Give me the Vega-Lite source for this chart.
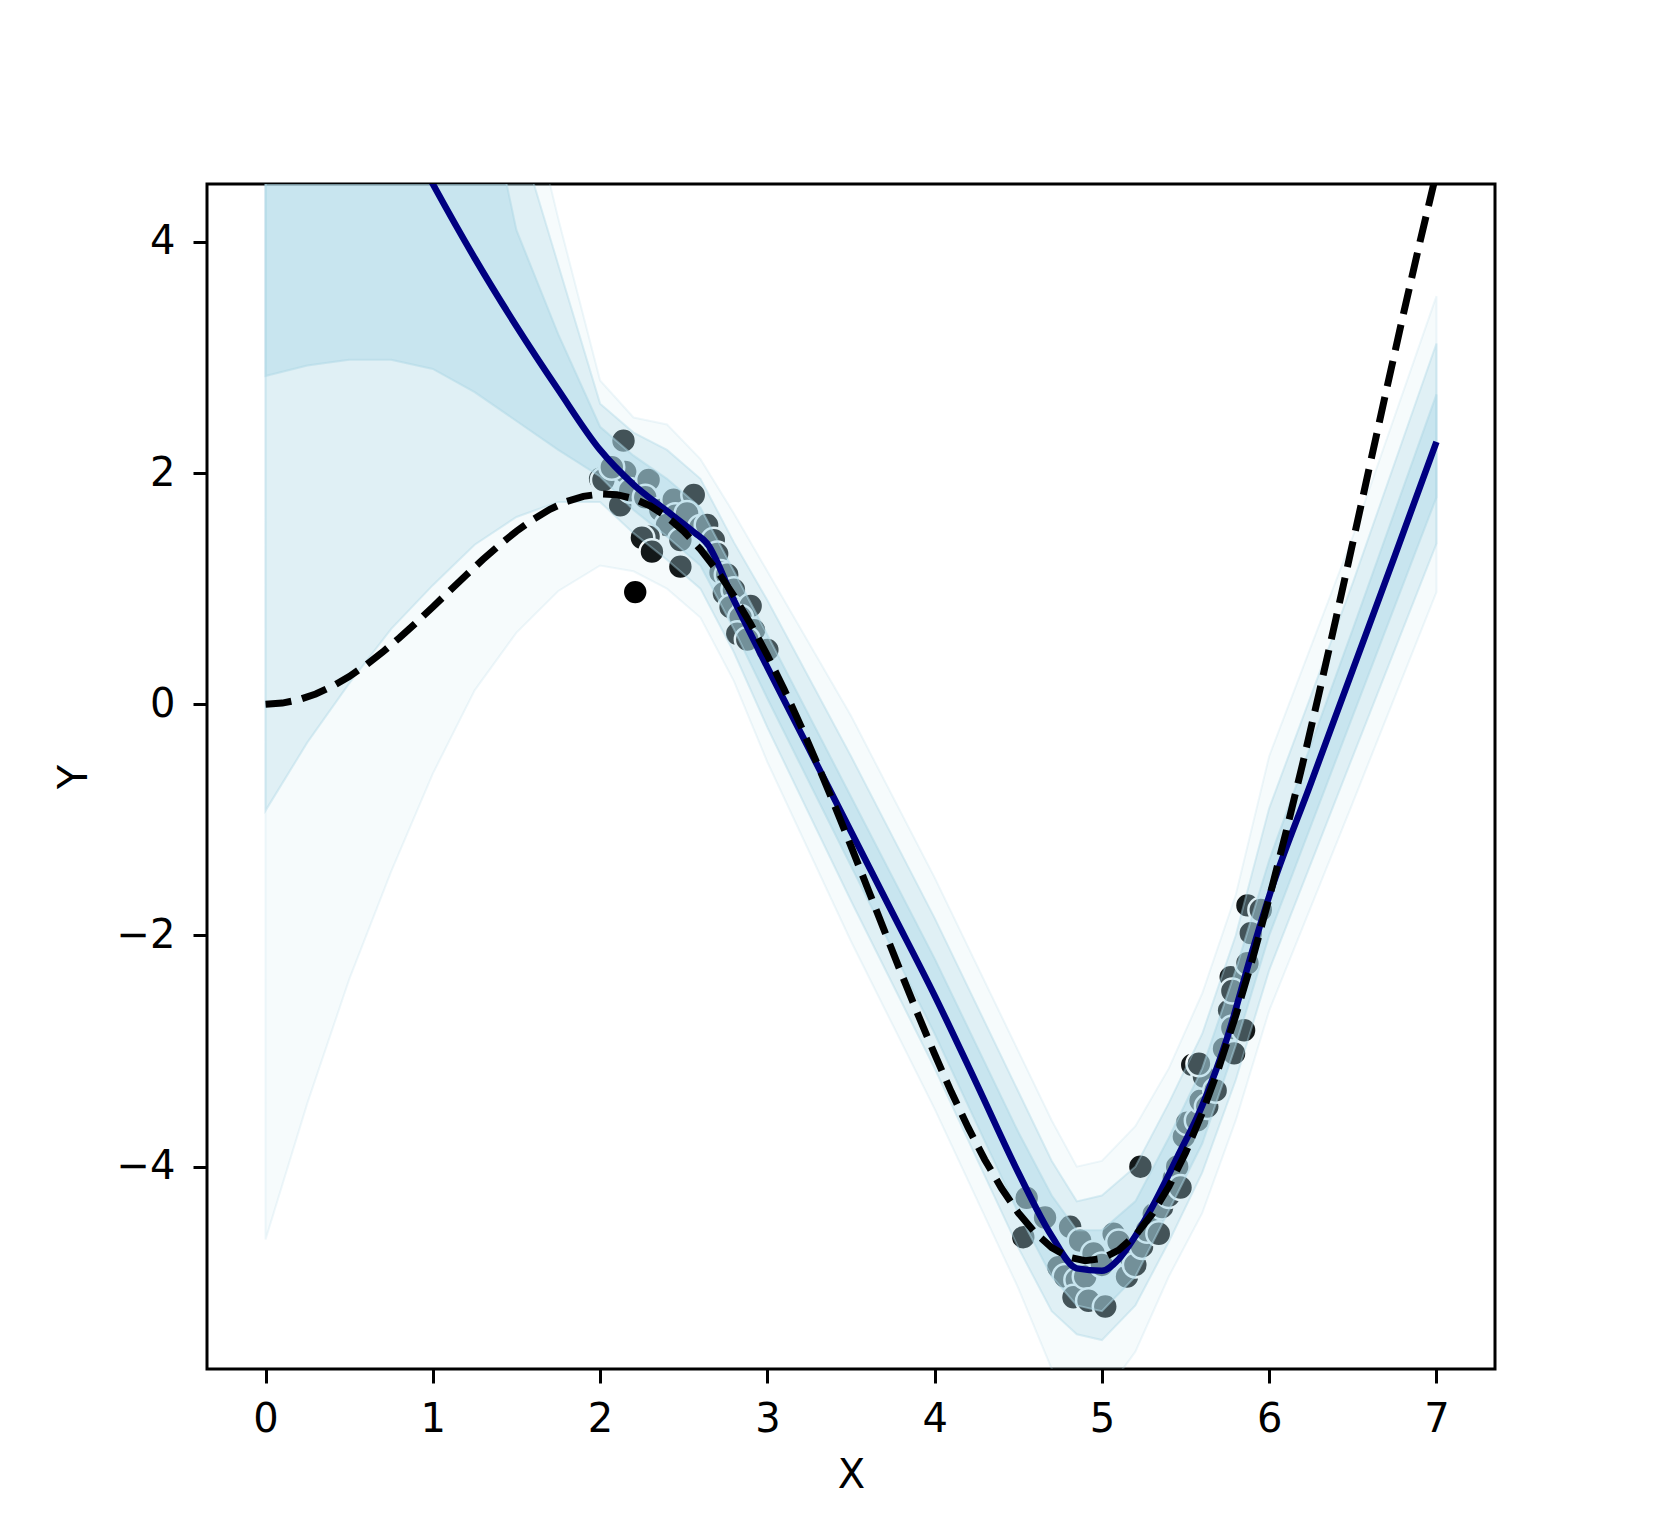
{
  "$schema": "https://vega.github.io/schema/vega-lite/v6.json",
  "width": 1288,
  "height": 1185,
  "autosize": {"type": "none"},
  "padding": {"left": 207, "top": 184, "right": 166, "bottom": 171},
  "background": "white",
  "config": {
    "view": {"stroke": "black", "strokeWidth": 3},
    "axis": {
      "domain": false, "grid": false,
      "tickColor": "black", "tickWidth": 3, "tickSize": 14,
      "labelFont": "DejaVu Sans", "labelFontSize": 40, "labelColor": "black",
      "titleFont": "DejaVu Sans", "titleFontSize": 40, "titleFontWeight": "normal", "titleColor": "black"
    }
  },
  "datasets": {
    "pts": [
      {"x": 2.00, "y": 1.95}, {"x": 2.02, "y": 1.94}, {"x": 2.14, "y": 2.28}, {"x": 2.15, "y": 2.01},
      {"x": 2.12, "y": 1.72}, {"x": 2.07, "y": 2.05}, {"x": 2.18, "y": 1.85}, {"x": 2.29, "y": 1.94},
      {"x": 2.27, "y": 1.79}, {"x": 2.36, "y": 1.68}, {"x": 2.44, "y": 1.77}, {"x": 2.56, "y": 1.81},
      {"x": 2.45, "y": 1.63}, {"x": 2.52, "y": 1.65}, {"x": 2.40, "y": 1.55}, {"x": 2.60, "y": 1.53},
      {"x": 2.64, "y": 1.55}, {"x": 2.29, "y": 1.45}, {"x": 2.25, "y": 1.44}, {"x": 2.48, "y": 1.42},
      {"x": 2.31, "y": 1.32}, {"x": 2.48, "y": 1.19}, {"x": 2.21, "y": 0.97}, {"x": 2.68, "y": 1.42},
      {"x": 2.70, "y": 1.30}, {"x": 2.72, "y": 1.14}, {"x": 2.76, "y": 1.12}, {"x": 2.74, "y": 0.96},
      {"x": 2.80, "y": 0.99}, {"x": 2.78, "y": 0.84}, {"x": 2.87, "y": 0.82}, {"x": 2.90, "y": 0.85},
      {"x": 2.84, "y": 0.75}, {"x": 2.92, "y": 0.64}, {"x": 2.82, "y": 0.61}, {"x": 2.88, "y": 0.56},
      {"x": 3.00, "y": 0.47},
      {"x": 4.53, "y": -4.61}, {"x": 4.55, "y": -4.27}, {"x": 4.66, "y": -4.44}, {"x": 4.74, "y": -4.87},
      {"x": 4.81, "y": -4.52}, {"x": 4.78, "y": -4.95}, {"x": 4.85, "y": -4.98}, {"x": 4.83, "y": -5.13},
      {"x": 4.87, "y": -4.64}, {"x": 4.90, "y": -4.95}, {"x": 4.92, "y": -5.16}, {"x": 4.95, "y": -4.75},
      {"x": 5.00, "y": -4.85}, {"x": 5.02, "y": -5.21}, {"x": 5.07, "y": -4.58}, {"x": 5.10, "y": -4.65},
      {"x": 5.15, "y": -4.95}, {"x": 5.17, "y": -4.78}, {"x": 5.20, "y": -4.85}, {"x": 5.23, "y": -4.00},
      {"x": 5.24, "y": -4.69}, {"x": 5.27, "y": -4.55}, {"x": 5.31, "y": -4.41}, {"x": 5.34, "y": -4.58},
      {"x": 5.36, "y": -4.35}, {"x": 5.40, "y": -4.25}, {"x": 5.43, "y": -4.10}, {"x": 5.45, "y": -4.00},
      {"x": 5.47, "y": -4.18}, {"x": 5.49, "y": -3.74}, {"x": 5.51, "y": -3.62}, {"x": 5.54, "y": -3.12},
      {"x": 5.57, "y": -3.60}, {"x": 5.59, "y": -3.43}, {"x": 5.61, "y": -3.22}, {"x": 5.58, "y": -3.11},
      {"x": 5.63, "y": -3.48}, {"x": 5.68, "y": -3.34}, {"x": 5.73, "y": -2.98}, {"x": 5.76, "y": -2.65},
      {"x": 5.77, "y": -2.36}, {"x": 5.78, "y": -2.48}, {"x": 5.78, "y": -2.80}, {"x": 5.79, "y": -3.02},
      {"x": 5.85, "y": -2.82}, {"x": 5.87, "y": -2.24}, {"x": 5.87, "y": -1.74}, {"x": 5.89, "y": -1.98},
      {"x": 5.95, "y": -1.78}
    ],
    "bands": [
      {"x": 0, "lo1": 2.84, "hi1": 11, "lo2": -0.92, "hi2": 14, "lo3": -4.63, "hi3": 17},
      {"x": 0.25, "lo1": 2.93, "hi1": 10.2, "lo2": -0.33, "hi2": 12.8, "lo3": -3.45, "hi3": 15.5},
      {"x": 0.5, "lo1": 2.98, "hi1": 9.3, "lo2": 0.18, "hi2": 11.6, "lo3": -2.38, "hi3": 14},
      {"x": 0.75, "lo1": 2.98, "hi1": 8.3, "lo2": 0.65, "hi2": 10.2, "lo3": -1.45, "hi3": 12},
      {"x": 1.0, "lo1": 2.9, "hi1": 7.2, "lo2": 1.03, "hi2": 8.8, "lo3": -0.6, "hi3": 10},
      {"x": 1.25, "lo1": 2.7, "hi1": 5.8, "lo2": 1.38, "hi2": 7.0, "lo3": 0.12, "hi3": 8},
      {"x": 1.5, "lo1": 2.45, "hi1": 4.1, "lo2": 1.62, "hi2": 5.0, "lo3": 0.62, "hi3": 5.7},
      {"x": 1.75, "lo1": 2.2, "hi1": 3.2, "lo2": 1.75, "hi2": 3.8, "lo3": 0.98, "hi3": 4.2},
      {"x": 2.0, "lo1": 1.97, "hi1": 2.4, "lo2": 1.75, "hi2": 2.6, "lo3": 1.2, "hi3": 2.8},
      {"x": 2.2, "lo1": 1.68, "hi1": 2.15, "lo2": 1.48, "hi2": 2.35, "lo3": 1.15, "hi3": 2.48},
      {"x": 2.4, "lo1": 1.45, "hi1": 1.95, "lo2": 1.25, "hi2": 2.2, "lo3": 1.0, "hi3": 2.42},
      {"x": 2.6, "lo1": 1.2, "hi1": 1.7, "lo2": 1.0, "hi2": 1.95, "lo3": 0.75, "hi3": 2.12},
      {"x": 2.8, "lo1": 0.65, "hi1": 1.15, "lo2": 0.45, "hi2": 1.4, "lo3": 0.2, "hi3": 1.65},
      {"x": 3.0, "lo1": 0.05, "hi1": 0.6, "lo2": -0.2, "hi2": 0.9, "lo3": -0.5, "hi3": 1.15},
      {"x": 3.5, "lo1": -1.4, "hi1": -0.8, "lo2": -1.7, "hi2": -0.45, "lo3": -2.05, "hi3": -0.1},
      {"x": 4.0, "lo1": -2.85, "hi1": -2.2, "lo2": -3.15, "hi2": -1.85, "lo3": -3.5, "hi3": -1.5},
      {"x": 4.5, "lo1": -4.4, "hi1": -3.7, "lo2": -4.7, "hi2": -3.35, "lo3": -5.05, "hi3": -3.0},
      {"x": 4.7, "lo1": -4.95, "hi1": -4.25, "lo2": -5.25, "hi2": -3.95, "lo3": -5.75, "hi3": -3.6},
      {"x": 4.85, "lo1": -5.2, "hi1": -4.55, "lo2": -5.45, "hi2": -4.3, "lo3": -6.0, "hi3": -4.0},
      {"x": 5.0, "lo1": -5.25, "hi1": -4.55, "lo2": -5.5, "hi2": -4.25, "lo3": -6.0, "hi3": -3.95},
      {"x": 5.2, "lo1": -4.95, "hi1": -4.3, "lo2": -5.2, "hi2": -4.0, "lo3": -5.6, "hi3": -3.65},
      {"x": 5.4, "lo1": -4.38, "hi1": -3.75, "lo2": -4.65, "hi2": -3.45, "lo3": -4.95, "hi3": -3.15},
      {"x": 5.6, "lo1": -3.8, "hi1": -3.15, "lo2": -4.05, "hi2": -2.85, "lo3": -4.4, "hi3": -2.5},
      {"x": 5.8, "lo1": -2.95, "hi1": -2.3, "lo2": -3.25, "hi2": -2.0, "lo3": -3.6, "hi3": -1.65},
      {"x": 6.0, "lo1": -2.0, "hi1": -1.35, "lo2": -2.3, "hi2": -0.9, "lo3": -2.65, "hi3": -0.45},
      {"x": 6.5, "lo1": -0.1, "hi1": 0.65, "lo2": -0.45, "hi2": 1.05, "lo3": -0.85, "hi3": 1.45},
      {"x": 7.0, "lo1": 1.79, "hi1": 2.68, "lo2": 1.39, "hi2": 3.12, "lo3": 0.97, "hi3": 3.53}
    ],
    "mean": [
      {"x": 0, "y": 7.35}, {"x": 0.25, "y": 6.6}, {"x": 0.5, "y": 5.88}, {"x": 0.75, "y": 5.18},
      {"x": 1.0, "y": 4.5}, {"x": 1.25, "y": 3.86}, {"x": 1.5, "y": 3.27}, {"x": 1.75, "y": 2.72},
      {"x": 2.0, "y": 2.2}, {"x": 2.2, "y": 1.9}, {"x": 2.4, "y": 1.67}, {"x": 2.55, "y": 1.5},
      {"x": 2.64, "y": 1.39}, {"x": 2.8, "y": 0.9}, {"x": 3.0, "y": 0.32}, {"x": 3.25, "y": -0.39},
      {"x": 3.5, "y": -1.1}, {"x": 3.75, "y": -1.81}, {"x": 4.0, "y": -2.52}, {"x": 4.25, "y": -3.28},
      {"x": 4.5, "y": -4.05}, {"x": 4.7, "y": -4.6}, {"x": 4.85, "y": -4.88}, {"x": 5.0, "y": -4.9},
      {"x": 5.1, "y": -4.8}, {"x": 5.2, "y": -4.6}, {"x": 5.3, "y": -4.35}, {"x": 5.45, "y": -3.92},
      {"x": 5.6, "y": -3.47}, {"x": 5.75, "y": -2.88}, {"x": 5.9, "y": -2.13}, {"x": 6.0, "y": -1.66},
      {"x": 6.25, "y": -0.68}, {"x": 6.5, "y": 0.3}, {"x": 6.75, "y": 1.28}, {"x": 7.0, "y": 2.27}
    ],
    "truth": [
      {"x": 0.0, "y": 0}, {"x": 0.1, "y": 0.00998}, {"x": 0.2, "y": 0.03973}, {"x": 0.3, "y": 0.08866},
      {"x": 0.4, "y": 0.15577}, {"x": 0.5, "y": 0.23971}, {"x": 0.6, "y": 0.33879}, {"x": 0.7, "y": 0.45095},
      {"x": 0.8, "y": 0.57388}, {"x": 0.9, "y": 0.70499}, {"x": 1.0, "y": 0.84147}, {"x": 1.1, "y": 0.98033},
      {"x": 1.2, "y": 1.11845}, {"x": 1.3, "y": 1.25263}, {"x": 1.4, "y": 1.37963}, {"x": 1.5, "y": 1.49624},
      {"x": 1.6, "y": 1.59932}, {"x": 1.7, "y": 1.68583}, {"x": 1.8, "y": 1.75293}, {"x": 1.9, "y": 1.79797},
      {"x": 2.0, "y": 1.81859}, {"x": 2.1, "y": 1.81274}, {"x": 2.2, "y": 1.7787}, {"x": 2.3, "y": 1.71514},
      {"x": 2.4, "y": 1.62111}, {"x": 2.5, "y": 1.49618}, {"x": 2.6, "y": 1.34031}, {"x": 2.7, "y": 1.15393},
      {"x": 2.8, "y": 0.93797}, {"x": 2.9, "y": 0.69383}, {"x": 3.0, "y": 0.42336}, {"x": 3.1, "y": 0.1289},
      {"x": 3.2, "y": -0.18679}, {"x": 3.3, "y": -0.52058}, {"x": 3.4, "y": -0.86884}, {"x": 3.5, "y": -1.22773},
      {"x": 3.6, "y": -1.59307}, {"x": 3.7, "y": -1.96041}, {"x": 3.8, "y": -2.32507}, {"x": 3.9, "y": -2.6823},
      {"x": 4.0, "y": -3.02721}, {"x": 4.1, "y": -3.35495}, {"x": 4.2, "y": -3.66064}, {"x": 4.3, "y": -3.93953},
      {"x": 4.4, "y": -4.18704}, {"x": 4.5, "y": -4.39889}, {"x": 4.6, "y": -4.57097}, {"x": 4.7, "y": -4.69962},
      {"x": 4.8, "y": -4.78157}, {"x": 4.9, "y": -4.81401}, {"x": 5.0, "y": -4.79462}, {"x": 5.1, "y": -4.72163},
      {"x": 5.2, "y": -4.59394}, {"x": 5.3, "y": -4.41103}, {"x": 5.4, "y": -4.1729}, {"x": 5.5, "y": -3.88047},
      {"x": 5.6, "y": -3.53511}, {"x": 5.7, "y": -3.13893}, {"x": 5.8, "y": -2.69468}, {"x": 5.9, "y": -2.20589},
      {"x": 6.0, "y": -1.67649}, {"x": 6.1, "y": -1.11118}, {"x": 6.2, "y": -0.51516}, {"x": 6.3, "y": 0.10593},
      {"x": 6.4, "y": 0.74593}, {"x": 6.5, "y": 1.39827}, {"x": 6.6, "y": 2.05617}, {"x": 6.7, "y": 2.7125},
      {"x": 6.8, "y": 3.35994}, {"x": 6.9, "y": 3.99121}, {"x": 7.0, "y": 4.59891}
    ]
  },
  "layer": [
    {
      "data": {"name": "pts"},
      "mark": {"type": "point", "filled": true, "fill": "black", "stroke": "white", "strokeWidth": 2.5, "size": 620, "opacity": 1, "fillOpacity": 1, "strokeOpacity": 1, "clip": true},
      "encoding": {
        "x": {"field": "x", "type": "quantitative", "scale": {"domain": [-0.35, 7.35], "nice": false, "zero": false},
              "axis": {"values": [0, 1, 2, 3, 4, 5, 6, 7], "format": "d", "title": "X", "labelPadding": 16, "titlePadding": 16}},
        "y": {"field": "y", "type": "quantitative", "scale": {"domain": [-5.75, 4.5], "nice": false, "zero": false},
              "axis": {"values": [-4, -2, 0, 2, 4], "format": "d", "title": "Y", "labelPadding": 18, "titlePadding": 22}}
      }
    },
    {
      "data": {"name": "bands"},
      "mark": {"type": "area", "fill": "#add8e6", "fillOpacity": 0.11, "stroke": "#add8e6", "strokeOpacity": 0.2, "strokeWidth": 2, "clip": true},
      "encoding": {"x": {"field": "x", "type": "quantitative"}, "y": {"field": "lo3", "type": "quantitative"}, "y2": {"field": "hi3"}}
    },
    {
      "data": {"name": "bands"},
      "mark": {"type": "area", "fill": "#add8e6", "fillOpacity": 0.31, "stroke": "#add8e6", "strokeOpacity": 0.4, "strokeWidth": 2, "clip": true},
      "encoding": {"x": {"field": "x", "type": "quantitative"}, "y": {"field": "lo2", "type": "quantitative"}, "y2": {"field": "hi2"}}
    },
    {
      "data": {"name": "bands"},
      "mark": {"type": "area", "fill": "#add8e6", "fillOpacity": 0.46, "stroke": "#add8e6", "strokeOpacity": 0.5, "strokeWidth": 2, "clip": true},
      "encoding": {"x": {"field": "x", "type": "quantitative"}, "y": {"field": "lo1", "type": "quantitative"}, "y2": {"field": "hi1"}}
    },
    {
      "data": {"name": "mean"},
      "mark": {"type": "line", "color": "#000080", "strokeWidth": 6.5, "interpolate": "monotone", "clip": true},
      "encoding": {"x": {"field": "x", "type": "quantitative"}, "y": {"field": "y", "type": "quantitative"}}
    },
    {
      "data": {"name": "truth"},
      "mark": {"type": "line", "color": "black", "strokeWidth": 7, "strokeDash": [26, 11], "clip": true},
      "encoding": {"x": {"field": "x", "type": "quantitative"}, "y": {"field": "y", "type": "quantitative"}}
    }
  ]
}
